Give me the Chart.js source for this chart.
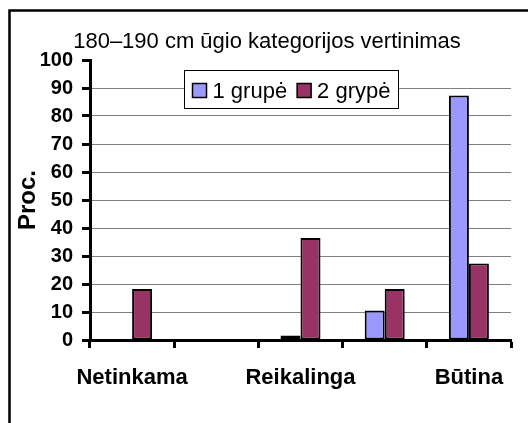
<!DOCTYPE html>
<html>
<head>
<meta charset="utf-8">
<script src="https://cdn.jsdelivr.net/npm/chart.js@4/dist/chart.umd.min.js"></script>
<style>
  html, body { margin: 0; padding: 0; background: #fff; }
  #wrap { width: 528px; height: 423px; position: relative; }
</style>
</head>
<body>
<div id="wrap"><canvas id="c" width="528" height="423"></canvas></div>
<script>
// ---- data ----
const categories = ['Netinkama', '', 'Reikalinga', '', 'Būtina'];
const group1 = [0, 0, 1.6, 10.5, 87.3];
const group2 = [18.2, 0, 36.4, 18.2, 27.3];
const seriesNames = ['1 grupė', '2 grypė'];
const seriesColors = ['#9999FF', '#993366'];
const chartTitle = '180–190 cm ūgio kategorijos vertinimas';
const yTitle = 'Proc.';

const FONT = "'Liberation Sans', Arial, Helvetica, sans-serif";
Chart.defaults.font.family = FONT;
Chart.defaults.color = '#000';

const decor = {
  id: 'decor',
  afterDraw(chart) {
    const ctx = chart.ctx;
    const a = chart.chartArea;
    ctx.save();
    // outer frame
    ctx.strokeStyle = '#000';
    ctx.lineWidth = 2.5;
    ctx.strokeRect(9.5, 10.5, 700, 700);
    // title
    ctx.fillStyle = '#000';
    ctx.font = '22px ' + FONT;
    ctx.textAlign = 'center';
    ctx.textBaseline = 'alphabetic';
    ctx.fillText(chartTitle, 267, 48);
    // legend
    const items = chart.data.datasets.map(d => ({ label: d.label, color: d.backgroundColor }));
    const pad = 8, sq = 14, gapT = 6, gapI = 10, h = 38;
    ctx.font = '22px ' + FONT;
    let w = pad * 2;
    items.forEach((it, i) => { w += sq + gapT + ctx.measureText(it.label).width + (i ? gapI : 0); });
    const x0 = Math.round(a.left + 94) + 0.5, y0 = Math.round(a.top + 10) + 0.5;
    ctx.fillStyle = '#fff';
    ctx.fillRect(x0, y0, w, h);
    ctx.strokeStyle = '#000';
    ctx.lineWidth = 1;
    ctx.strokeRect(x0, y0, w, h);
    let x = x0 + pad;
    const sy = y0 + 13;
    ctx.textAlign = 'left';
    items.forEach((it, i) => {
      if (i) x += gapI;
      ctx.fillStyle = it.color;
      ctx.fillRect(x, sy, sq, sq);
      ctx.lineWidth = 1.5;
      ctx.strokeStyle = '#000';
      ctx.strokeRect(x, sy, sq, sq);
      x += sq + gapT;
      ctx.fillStyle = '#000';
      ctx.fillText(it.label, x, sy + sq);
      x += ctx.measureText(it.label).width;
    });
    ctx.restore();
  }
};

new Chart(document.getElementById('c'), {
  type: 'bar',
  data: {
    labels: categories,
    datasets: [
      { label: seriesNames[0], data: group1, backgroundColor: seriesColors[0], borderColor: '#000', borderWidth: 2, borderSkipped: false },
      { label: seriesNames[1], data: group2, backgroundColor: seriesColors[1], borderColor: '#000', borderWidth: 2, borderSkipped: false }
    ]
  },
  options: {
    responsive: false,
    animation: false,
    layout: { padding: { top: 60, right: 17, left: 0, bottom: 0 } },
    datasets: { bar: { categoryPercentage: 0.475, barPercentage: 1 } },
    plugins: { legend: { display: false }, title: { display: false }, tooltip: { enabled: false } },
    scales: {
      x: {
        offset: true,
        grid: { offset: true, drawOnChartArea: false, drawTicks: true, tickLength: 8, tickWidth: 3, tickColor: '#000' },
        border: { display: true, width: 3, color: '#000' },
        ticks: { font: { size: 22, weight: 'bold' }, color: '#000', padding: 17, maxRotation: 0, autoSkip: false },
        afterFit(s) { s.height = 83; }
      },
      y: {
        min: 0, max: 100,
        ticks: { stepSize: 10, font: { size: 20, weight: 'bold' }, color: '#000', padding: 9 },
        grid: {
          color: c => (c.tick && c.tick.value > 0 && c.tick.value < 100) ? '#808080' : 'rgba(0,0,0,0)',
          lineWidth: 1, drawTicks: true, tickLength: 8, tickWidth: 3, tickColor: '#000'
        },
        border: { display: true, width: 3, color: '#000' },
        title: { display: true, text: yTitle, font: { size: 24, weight: 'bold' }, color: '#000', padding: { top: 14, bottom: 0 } },
        afterFit(s) { s.width = 90; }
      }
    }
  },
  plugins: [decor]
});
</script>
</body>
</html>
